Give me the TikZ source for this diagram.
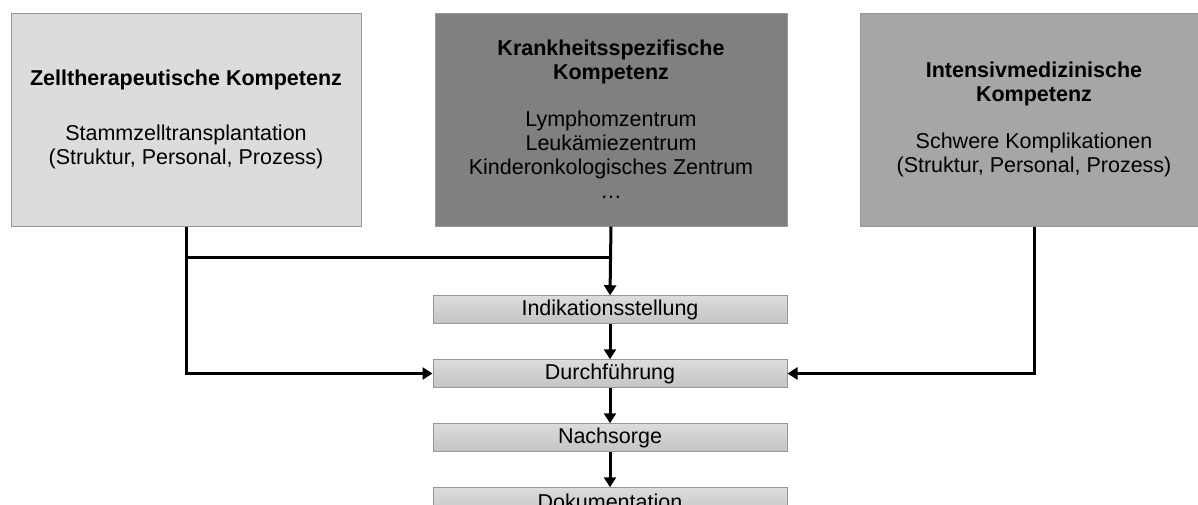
\documentclass[tikz,border=0pt]{standalone}
\usepackage{fontspec}
\setmainfont{Liberation Sans}
\usetikzlibrary{positioning, arrows.meta}
\definecolor{kompetlight}{RGB}{220, 220, 220}
\definecolor{kompetdark}{RGB}{128, 128, 128}
\definecolor{kompetmid}{RGB}{166, 166, 166}
\definecolor{kompetedge}{RGB}{150, 150, 150}
\definecolor{steptop}{RGB}{220, 220, 220}
\definecolor{stepbottom}{RGB}{196, 196, 196}
\begin{document}
\begin{tikzpicture}[x=1pt, y=-1pt,
    every node/.style={font=\fontsize{21.5}{24}\selectfont},
    kompetbox/.style={draw=kompetedge, line width=1pt, minimum width=350pt, minimum height=213pt, inner sep=0pt, align=center},
    stepbox/.style={draw=kompetedge, line width=1pt, top color=steptop, bottom color=stepbottom, minimum width=354pt, minimum height=27.5pt, inner sep=0pt},
    link/.style={line width=3pt, -{Triangle[length=10pt, width=12pt]}},
    joint/.style={line width=3pt}]
        \useasboundingbox (0, 0) rectangle (1198, 504);
        % Competence boxes on top
        \node[kompetbox, fill=kompetlight] (zell) at (186, 119.5)
            {\textbf{Zelltherapeutische Kompetenz}\\[31pt]Stammzelltransplantation\\(Struktur, Personal, Prozess)};
        \node[kompetbox, fill=kompetdark, minimum width=352pt, right=73pt of zell] (krank)
            {\textbf{Krankheitsspezifische}\\\textbf{Kompetenz}\\[23pt]Lymphomzentrum\\Leuk\"amiezentrum\\Kinderonkologisches Zentrum\\\ldots};
        \node[kompetbox, fill=kompetmid, minimum width=348pt, right=72pt of krank] (intens)
            {\textbf{Intensivmedizinische}\\\textbf{Kompetenz}\\[23pt]Schwere Komplikationen\\(Struktur, Personal, Prozess)};
        % Process steps
        \node[stepbox] (indik) at (610, 309.5) {Indikationsstellung};
        \node[stepbox, below=35.5pt of indik] (durch) {Durchf\"uhrung};
        \node[stepbox, below=35.5pt of durch] (nach) {Nachsorge};
        \node[stepbox, below=35.5pt of nach] (doku) {Dokumentation};
        % Connectors
        \coordinate (merge) at (krank.south |- 0, 257);
        \draw[joint] (zell.south) |- (merge);
        \draw[link] (krank.south) -- (indik.north);
        \draw[link] (zell.south) |- (durch.west);
        \draw[link] (intens.south) |- (durch.east);
        \draw[link] (indik) -- (durch);
        \draw[link] (durch) -- (nach);
        \draw[link] (nach) -- (doku);
      \end{tikzpicture}
\end{document}
